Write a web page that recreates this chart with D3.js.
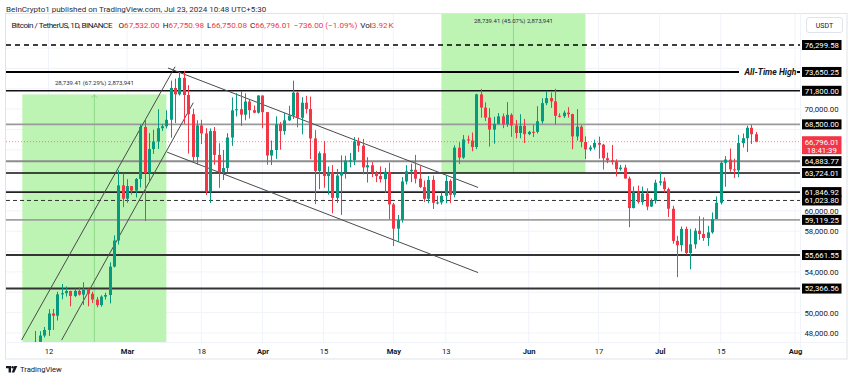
<!DOCTYPE html>
<html><head><meta charset="utf-8">
<script src="https://cdn.jsdelivr.net/npm/d3@7"></script>
<style>
body{margin:0;background:#fff}
svg{display:block;font-family:Roboto,"Liberation Sans",Arial,sans-serif}
</style>
</head><body>
<svg id="chart" width="850" height="380"></svg>
<script>
// ---------------- DATA ----------------
const startDate = "2024-02-05";
const opens = [42583,42658,43084,44339,45293,47132,47751,48299,49917,49699,51795,51911,52127,51642,52137,51775,52259,51849,51288,50745,51572,51733,54522,57085,62504,
61198,62432,61996,63134,68245,63724,66074,66823,68124,68313,68955,72078,71452,73072,71388,69499,65300,68393,67609,61937,67840,65501,63797,64209,67211,69880,69988,69456,70744,69892,69645,
71333,69702,65446,65980,68508,67837,68896,69360,71620,69146,70631,70006,67117,63924,65662,63420,63793,61277,63470,63818,64941,64970,66837,66408,64276,64481,63756,63419,63114,63842,
60636,58254,59123,62889,63891,64031,63161,62334,61187,63049,60793,60825,61483,62940,61577,66206,65235,67024,66915,66274,71446,70148,69167,67985,68549,69290,68508,69436,68398,67652,68352,
67540,67766,67765,68809,70587,71084,70757,69342,69305,69648,69508,67314,68263,66773,66043,66228,66676,66505,65175,64974,64828,64096,64252,63180,60277,61806,60864,61706,60427,60986,
62772,62900,62135,60209,57050,56628,58231,55857,56714,58050,57725,57339,57889,59204,60797,64724,65043,64087,63987,66660,67139,68165,67532];
const highs = [43494,43376,44360,45614,48200,48170,48592,50334,50368,52043,52816,52575,52160,52370,52488,52985,52372,52065,51548,51698,51958,54938,57588,64000,63676,
63114,62458,63231,68500,69000,67637,67985,69990,68541,69887,72800,73000,73650,73777,72357,70043,68904,68957,68124,68100,68240,66650,65976,67628,71150,71561,71769,71552,70913,70355,71366,
71342,69708,66914,69291,68725,69629,70326,72797,71758,71172,71305,71227,67931,65840,66867,64365,64499,64125,65450,65419,65695,67254,67200,67075,65275,64789,63923,64370,64228,64734,
60780,59602,63320,64494,64646,65500,64390,62986,63421,63469,61490,61819,63450,63102,66444,66752,67451,67400,67700,71515,71980,70666,70096,69250,69610,69562,70687,69591,68935,69500,69044,
67860,68460,70288,71063,71758,71625,71997,69584,69850,70195,69550,69999,68449,67320,66440,66998,67298,66590,65728,66483,65067,64520,64525,63369,62394,62487,62389,62225,61224,63058,
63861,63288,62285,60498,57546,58475,58449,58236,58296,59470,59359,58526,59850,61420,64900,65388,66128,65133,67470,67598,68366,68480,67750.98];
const lows = [42258,42574,42788,44331,45242,46800,47557,47710,48300,49225,51314,51579,50625,51530,51677,50760,50625,50940,50525,50585,51280,50901,54450,56690,60364,
60790,61589,61320,62300,59005,62848,65600,66082,67861,68094,67194,68620,71333,68555,65630,64780,64533,66566,61555,60775,64529,62260,63038,63772,66386,69280,68359,68903,69077,69601,69562,
68110,64533,64493,65113,66011,67491,68824,69040,68210,67518,69567,65086,60660,62134,62274,61600,59768,60775,59600,63172,64277,64500,65800,63590,62783,63322,62824,62781,61765,59191,
56552,56937,58848,62599,62822,62700,62250,60877,60750,60187,60633,60610,60750,60760,61330,64602,65107,66600,65857,66060,69162,68832,66312,66600,68500,68128,68250,67278,67124,67131,66670,
67445,67257,67612,68567,70384,70119,68500,69180,69125,69172,66051,66900,66251,65078,65880,66034,65131,64060,64693,64547,63379,63943,63178,58402,60239,60712,60606,60063,60383,60712,
62497,61806,59400,56771,53485,56018,55724,54260,56289,57157,57052,56542,57756,59204,60632,62373,63854,63238,63300,66222,65777,66573,66750.08];
const closes = [42658,43084,44339,45293,47132,47751,48299,49917,49699,51795,51911,52127,51642,52137,51775,52259,51849,51288,50745,51572,51733,54522,57085,62504,61198,
62432,61996,63134,68245,63724,66074,66823,68124,68313,68955,72078,71452,73072,71388,69499,65300,68393,67609,61937,67840,65501,63797,64209,67211,69880,69988,69456,70744,69892,69645,71333,
69702,65446,65980,68508,67837,68896,69360,71620,69146,70631,70006,67117,63924,65662,63420,63793,61277,63470,63818,64941,64970,66837,66408,64276,64481,63756,63419,63114,63842,60636,
58254,59123,62889,63891,64031,63161,62334,61187,63049,60793,60825,61483,62940,61577,66206,65235,67024,66915,66274,71446,70148,69167,67985,68549,69290,68508,69436,68398,67652,68352,67540,
67766,67765,68809,70587,71084,70757,69342,69305,69648,69508,67314,68263,66773,66043,66228,66676,66505,65175,64974,64828,64096,64252,63180,60277,61806,60864,61706,60427,60986,62772,
62900,62135,60209,57050,56628,58231,55857,56714,58050,57725,57339,57889,59204,60797,64724,65043,64087,63987,66660,67139,68165,67532,66796.01];

const timeTickDates = ["2024-02-12","2024-03-01","2024-03-18","2024-04-01","2024-04-15","2024-05-01","2024-05-13","2024-06-01","2024-06-17","2024-07-01","2024-07-15","2024-08-01"];
const timeTickLabels = ["12","Mar","18","Apr","15","May","13","Jun","17","Jul","15","Aug"];
const priceTicks = [48000,50000,52000,54000,56000,58000,60000,62000,64000,66000,68000,70000,72000,74000,76000];

const levelPrices = [76299.58, 73650.25, 71800.00, 68500.00, 64883.77, 63724.01, 61846.92, 61023.80, 59119.25, 55661.55, 52366.56];
const lastPrice = 66796.01;
const countdown = "18:41:39";

const rangeStarts = ["2024-02-06","2024-05-12"];
const rangeEnds = ["2024-03-10","2024-06-14"];
const rangeLows = [42709.59, 63724.01];
const rangeChange = 28739.41;
const rangePercents = ["67.29%","45.07%"];
const rangeBars = "2,873,941";

// trend lines: [date, price] endpoints
const ascUpper = [["2024-02-05T20:00:00Z",47300],["2024-03-12T00:00:00Z",74170]];
const ascLower = [["2024-02-15T00:00:00Z",47300],["2024-03-16T04:00:00Z",70630]];
const descUpper = [["2024-03-10T09:00:00Z",74040],["2024-05-20T10:00:00Z",62300]];
const descLower = [["2024-03-10T04:00:00Z",65770],["2024-05-20T10:00:00Z",53935]];

const headerTitle = "BeInCrypto1 published on TradingView.com, Jul 23, 2024 10:48 UTC+5:30";
const symbolLine = "Bitcoin / TetherUS, 1D, BINANCE";
const ohlcLabels = ["O","H","L","C"];
const ohlcValues = ["67,532.00","67,750.98","66,750.08","66,796.01"];
const changeText = "\u2212736.00 (\u22121.09%)";
const volText = "3.92\u202FK";

// ---------------- STYLE / LAYOUT ----------------
const W = 850, H = 380;
const pane = {left: 6, right: 800, top: 14, bottom: 342};
const UP = "#089981", DOWN = "#f23645", TEXT = "#131722";
const levelStyle = [
  {stroke:"#000", w:1.3, dash:"5,4"},
  {stroke:"#000", w:2, dash:null},
  {stroke:"#111", w:1.6, dash:null},
  {stroke:"#9a9a9a", w:1.6, dash:null},
  {stroke:"#8c8c8c", w:2, dash:null},
  {stroke:"#111", w:1.6, dash:null},
  {stroke:"#222", w:1.6, dash:null},
  {stroke:"#333", w:1, dash:"4,3"},
  {stroke:"#a0a0a0", w:1.6, dash:null},
  {stroke:"#333", w:2, dash:null},
  {stroke:"#333", w:2, dash:null}
];

const svg = d3.select("#chart");
const parse = d3.utcParse("%Y-%m-%d");
const iso = d3.isoParse;

const x = d3.scaleUtc().domain([parse("2024-02-12"), parse("2024-08-01")]).range([48.5, 795]);
const y = d3.scaleLinear().domain([48000, 76299.58]).range([333, 45]);

const t0 = parse(startDate);
const candles = closes.map((c, i) => ({date: d3.utcDay.offset(t0, i), o: opens[i], h: highs[i], l: lows[i], c}));

svg.append("rect").attr("x", 0).attr("y", 0).attr("width", W).attr("height", H).attr("fill", "#fff");

svg.append("defs").append("clipPath").attr("id", "pane")
  .append("rect").attr("x", pane.left).attr("y", pane.top)
  .attr("width", pane.right - pane.left).attr("height", pane.bottom - pane.top);

const g = svg.append("g").attr("clip-path", "url(#pane)");

// grid
const tickDates = timeTickDates.map(parse);
g.append("g").selectAll("line").data(tickDates).join("line")
  .attr("x1", d => x(d)).attr("x2", d => x(d)).attr("y1", pane.top).attr("y2", pane.bottom)
  .attr("stroke", "#f0f3fa").attr("stroke-width", 1);
g.append("g").selectAll("line").data(priceTicks).join("line")
  .attr("x1", pane.left).attr("x2", pane.right).attr("y1", d => y(d)).attr("y2", d => y(d))
  .attr("stroke", "#f0f3fa").attr("stroke-width", 1);

// range boxes
rangeStarts.forEach((s, i) => {
  const x0 = x(parse(s)), x1 = x(parse(rangeEnds[i]));
  const lo = rangeLows[i], hi = rangeLows[i] + rangeChange;
  g.append("rect").attr("x", x0).attr("y", y(hi)).attr("width", x1 - x0).attr("height", y(lo) - y(hi))
    .attr("fill", "#bdf4b4");
  const xm = (x0 + x1) / 2;
  g.append("line").attr("x1", xm).attr("x2", xm).attr("y1", y(hi)).attr("y2", y(lo))
    .attr("stroke", "#8fd988").attr("stroke-width", 1);
  g.append("path").attr("d", `M${xm - 3},${y(hi) + 3.5} L${xm},${y(hi) + 0.5} L${xm + 3},${y(hi) + 3.5}`)
    .attr("fill", "none").attr("stroke", "#8fd988").attr("stroke-width", 1);
  const ty = Math.max(y(hi) - 9, pane.top + 9);
  svg.append("text").attr("x", xm).attr("y", ty).attr("text-anchor", "middle")
    .attr("font-size", 6.0).attr("fill", "#2a2e39")
    .text(`${d3.format(",.2f")(rangeChange)} (${rangePercents[i]}) ${rangeBars}`);
});

// level lines
levelPrices.forEach((p, i) => {
  const st = levelStyle[i];
  const ln = g.append("line").attr("x1", pane.left).attr("x2", pane.right).attr("y1", y(p)).attr("y2", y(p))
    .attr("stroke", st.stroke).attr("stroke-width", st.w);
  if (st.dash) ln.attr("stroke-dasharray", st.dash);
});

// ATH label (breaks the line)
{
  const p = levelPrices[1];
  svg.append("rect").attr("x", 739).attr("y", y(p) - 5).attr("width", 58).attr("height", 10).attr("fill", "#fff");
  svg.append("text").attr("x", 796.5).attr("y", y(p) + 3).attr("text-anchor", "end")
    .attr("font-size", 8.6).attr("font-weight", "bold").attr("font-style", "italic").attr("fill", TEXT)
    .text("All-Time High");
}

// last price dotted line
g.append("line").attr("x1", pane.left).attr("x2", pane.right).attr("y1", y(lastPrice)).attr("y2", y(lastPrice))
  .attr("stroke", DOWN).attr("stroke-opacity", 0.6).attr("stroke-width", 1).attr("stroke-dasharray", "1,2");

// trend lines
[ascUpper, ascLower, descUpper, descLower].forEach(seg => {
  g.append("line")
    .attr("x1", x(iso(seg[0][0]))).attr("y1", y(seg[0][1]))
    .attr("x2", x(iso(seg[1][0]))).attr("y2", y(seg[1][1]))
    .attr("stroke", "#4a4a4a").attr("stroke-width", 1);
});

// candles
const bw = 3;
const cg = g.append("g");
cg.selectAll("line").data(candles).join("line")
  .attr("x1", d => Math.round(x(d.date)) + 0.5).attr("x2", d => Math.round(x(d.date)) + 0.5)
  .attr("y1", d => y(d.h)).attr("y2", d => y(d.l))
  .attr("stroke", d => d.c >= d.o ? UP : DOWN).attr("stroke-width", 1);
cg.selectAll("rect").data(candles).join("rect")
  .attr("x", d => Math.round(x(d.date)) + 0.5 - bw / 2)
  .attr("y", d => y(Math.max(d.o, d.c)))
  .attr("width", bw)
  .attr("height", d => Math.max(1, Math.abs(y(d.o) - y(d.c))))
  .attr("fill", d => d.c >= d.o ? UP : DOWN);

// frame / separators
svg.append("rect").attr("x", 5.5).attr("y", 13.5).attr("width", 841.5).attr("height", 345.5)
  .attr("fill", "none").attr("stroke", "#e0e3eb");
svg.append("line").attr("x1", 5.5).attr("x2", 847).attr("y1", pane.bottom + 0.5).attr("y2", pane.bottom + 0.5)
  .attr("stroke", "#f0f3fa");
svg.append("line").attr("x1", pane.right + 0.5).attr("x2", pane.right + 0.5).attr("y1", 13.5).attr("y2", 359)
  .attr("stroke", "#f0f3fa");

// time axis
const xAxis = d3.axisBottom(x).tickValues(tickDates).tickFormat((d, i) => timeTickLabels[i]).tickSize(0).tickPadding(0);
const xa = svg.append("g").attr("transform", `translate(0,${pane.bottom + 7})`).call(xAxis);
xa.select(".domain").remove();
xa.selectAll("text").attr("font-size", 7.6).attr("fill", TEXT)
  .attr("font-family", "Roboto,'Liberation Sans',sans-serif")
  .attr("font-weight", (d, i) => isNaN(+timeTickLabels[i]) ? 700 : 400);

// price axis (tick labels hidden where a level label box covers them)
const covered = v => levelPrices.concat([lastPrice]).some(p => Math.abs(y(p) - y(v)) < 8.5);
const yAxis = d3.axisRight(y).tickValues(priceTicks)
  .tickFormat(v => covered(v) ? "" : d3.format(",.2f")(v)).tickSize(0).tickPadding(0);
const ya = svg.append("g").attr("transform", `translate(821.5,0)`).call(yAxis);
ya.select(".domain").remove();
ya.selectAll("text").attr("text-anchor", "middle").attr("font-size", 7.8).attr("fill", TEXT)
  .attr("font-family", "Roboto,'Liberation Sans',sans-serif");

// level labels
levelPrices.forEach(p => {
  svg.append("rect").attr("x", 802).attr("y", y(p) - 5).attr("width", 39.5).attr("height", 10).attr("fill", "#000");
  svg.append("text").attr("x", 821.8).attr("y", y(p) + 2.8).attr("text-anchor", "middle")
    .attr("font-size", 7.8).attr("fill", "#fff").text(d3.format(",.2f")(p));
});
// last price label
svg.append("rect").attr("x", 802).attr("y", y(lastPrice) - 5.5).attr("width", 39.5).attr("height", 18).attr("fill", DOWN);
svg.append("text").attr("x", 821.8).attr("y", y(lastPrice) + 2.8).attr("text-anchor", "middle")
  .attr("font-size", 7.8).attr("fill", "#fff").text(d3.format(",.2f")(lastPrice));
svg.append("text").attr("x", 821.8).attr("y", y(lastPrice) + 11).attr("text-anchor", "middle")
  .attr("font-size", 7.8).attr("fill", "#fff").text(countdown);

// USDT button
svg.append("rect").attr("x", 806.5).attr("y", 17.5).attr("width", 36).attr("height", 15).attr("rx", 2.5)
  .attr("fill", "#fff").attr("stroke", "#e0e3eb");
svg.append("text").attr("x", 824.5).attr("y", 27.6).attr("text-anchor", "middle").attr("font-size", 7)
  .attr("fill", TEXT).text("USDT");

// header
svg.append("text").attr("x", 6).attr("y", 11.5).attr("font-size", 8).attr("fill", "#2a2e39").text(headerTitle);
const hl = svg.append("text").attr("x", 11.5).attr("y", 27.8).attr("font-size", 8.1).attr("fill", TEXT);
hl.append("tspan").attr("textLength", 101).text(symbolLine);
ohlcLabels.forEach((l, i) => {
  hl.append("tspan").attr("dx", i === 0 ? 6.5 : 3).attr("fill", TEXT).text(l);
  hl.append("tspan").attr("fill", DOWN).text(ohlcValues[i]);
});
hl.append("tspan").attr("dx", 3).attr("fill", DOWN).text(changeText);
hl.append("tspan").attr("dx", 3).attr("fill", TEXT).text("Vol");
hl.append("tspan").attr("fill", DOWN).text(volText);

// TradingView logo
const lg = svg.append("g").attr("fill", TEXT);
lg.append("path").attr("d", "M6,366 h5 v6.5 h-2.4 v-4.2 h-2.6 z");
lg.append("circle").attr("cx", 12.6).attr("cy", 367.3).attr("r", 1.2);
lg.append("path").attr("d", "M14.3,366 h3 l-3,6.5 h-2.6 z");
svg.append("text").attr("x", 20).attr("y", 372).attr("font-size", 7.6).attr("fill", TEXT).text("TradingView");
</script>
</body></html>
